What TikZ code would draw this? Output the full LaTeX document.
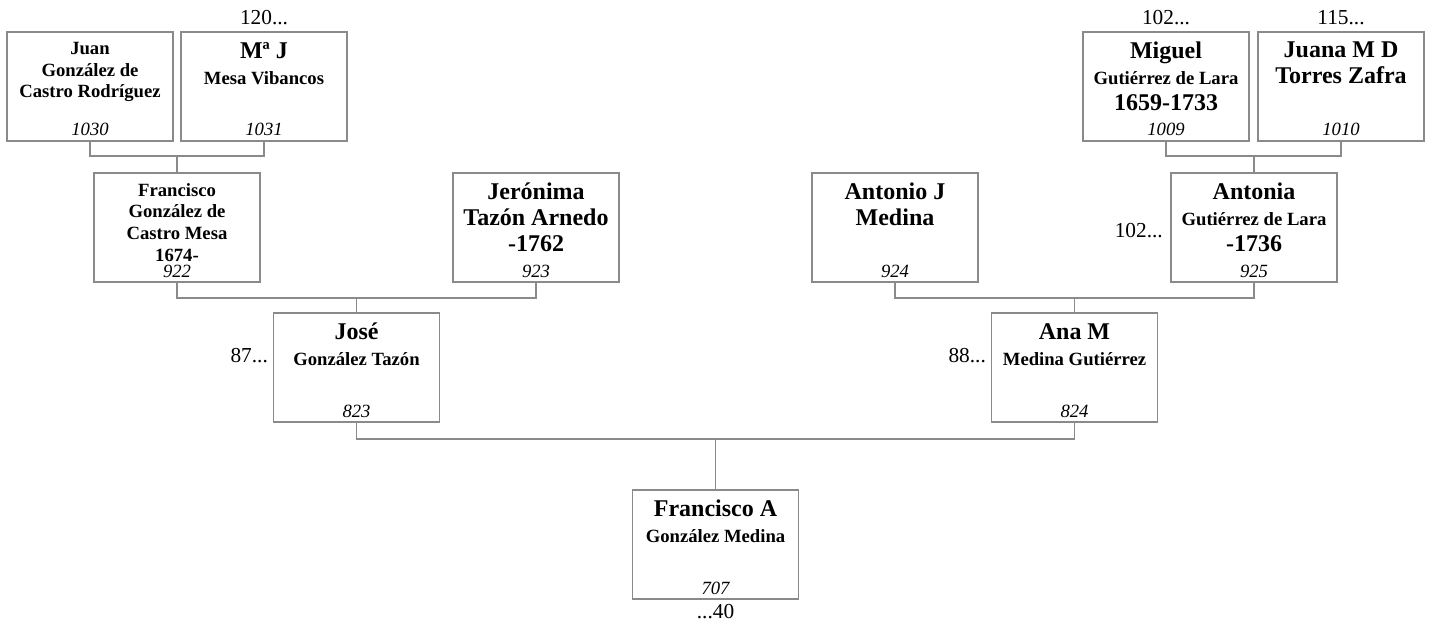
\documentclass[tikz,border=0pt]{standalone}
\usepackage{fontspec}
\setmainfont{Liberation Serif}
\usetikzlibrary{positioning}
\definecolor{frame}{HTML}{8A8A8A}
\newcommand\bigname{\fontsize{18}{19.5}\selectfont\bfseries}
\newcommand\smallname{\fontsize{14}{16.2}\selectfont\bfseries}

\begin{document}
\begin{tikzpicture}[
  x=0.75pt, y=-0.75pt,
  person/.style={rectangle, draw=frame, line width=0.9pt, minimum width=124.5pt,
    minimum height=81.75pt, inner sep=0pt, outer sep=0pt},
  who/.style={align=center, inner sep=0pt, font=\bigname},
  whosm/.style={align=center, inner sep=0pt, font=\smallname},
  num/.style={inner sep=0pt, font=\fontsize{14}{17}\selectfont\itshape},
  more/.style={inner sep=0pt, font=\fontsize{16}{19}\selectfont},
  link/.style={draw=frame, line width=0.9pt},
]
  \useasboundingbox (0,0) rectangle (1430,628);

  % abuelos de los abuelos
  \node[person] (juan) at (90,86.5) {};
  \node[whosm, below=7.5pt of juan.north] (juan-t) {Juan\\González de\\Castro Rodríguez};
  \node[num, above=3.5pt of juan.south] (juan-n) {1030};
  \node[person] (mj) at (264,86.5) {};
  \node[who, below=7.5pt of mj.north] (mj-t) {Mª J\\{\smallname Mesa Vibancos}};
  \node[num, above=3.5pt of mj.south] (mj-n) {1031};
  \node[more, above=5pt of mj.north] (mj-up) {120...};
  \node[person] (miguel) at (1166,86.5) {};
  \node[who, below=7.5pt of miguel.north] (miguel-t) {Miguel\\{\smallname Gutiérrez de Lara}\\1659-1733};
  \node[num, above=3.5pt of miguel.south] (miguel-n) {1009};
  \node[more, above=5pt of miguel.north] (miguel-up) {102...};
  \node[person] (juana) at (1341,86.5) {};
  \node[who, below=7.5pt of juana.north] (juana-t) {Juana M D\\Torres Zafra};
  \node[num, above=3.5pt of juana.south] (juana-n) {1010};
  \node[more, above=5pt of juana.north] (juana-up) {115...};

  % abuelos
  \node[person] (fran) at (177,227.5) {};
  \node[whosm, below=7.5pt of fran.north] (fran-t) {Francisco\\González de\\Castro Mesa\\1674-};
  \node[num, above=3pt of fran.south] (fran-n) {922};
  \node[person] (jero) at (536,227.5) {};
  \node[who, below=7.5pt of jero.north] (jero-t) {Jerónima\\Tazón Arnedo\\-1762};
  \node[num, above=3pt of jero.south] (jero-n) {923};
  \node[person] (antonio) at (895,227.5) {};
  \node[who, below=7.5pt of antonio.north] (antonio-t) {Antonio J\\Medina};
  \node[num, above=3pt of antonio.south] (antonio-n) {924};
  \node[person] (antonia) at (1254,227.5) {};
  \node[who, below=7.5pt of antonia.north] (antonia-t) {Antonia\\{\smallname Gutiérrez de Lara}\\-1736};
  \node[num, above=3pt of antonia.south] (antonia-n) {925};
  \node[more, left=6pt of antonia.west, yshift=-2pt] (antonia-up) {102...};

  % padres
  \node[person] (jose) at (356.5,367.5) {};
  \node[who, below=7.5pt of jose.north] (jose-t) {José\\{\smallname González Tazón}};
  \node[num, above=3pt of jose.south] (jose-n) {823};
  \node[more, left=4pt of jose.west, yshift=9pt] (jose-up) {87...};
  \node[person] (ana) at (1074.5,367.5) {};
  \node[who, below=7.5pt of ana.north] (ana-t) {Ana M\\{\smallname Medina Gutiérrez}};
  \node[num, above=3pt of ana.south] (ana-n) {824};
  \node[more, left=4pt of ana.west, yshift=9pt] (ana-up) {88...};

  % raiz
  \node[person] (franA) at (715.5,544.5) {};
  \node[who, below=7.5pt of franA.north] (franA-t) {Francisco A\\{\smallname González Medina}};
  \node[num, above=3pt of franA.south] (franA-n) {707};
  \node[more, below=4pt of franA.south] (franA-down) {...40};

  \draw[link] (juan.south) -- ++(0,15) coordinate (bar-a) -| (mj.south);
  \draw[link] (fran.north) -- (fran.north |- bar-a);
  \draw[link] (miguel.south) -- ++(0,15) coordinate (bar-b) -| (juana.south);
  \draw[link] (antonia.north) -- (antonia.north |- bar-b);
  \draw[link] (fran.south) -- ++(0,16) coordinate (bar-c) -| (jero.south);
  \draw[link] (jose.north) -- (jose.north |- bar-c);
  \draw[link] (antonio.south) -- ++(0,16) coordinate (bar-d) -| (antonia.south);
  \draw[link] (ana.north) -- (ana.north |- bar-d);
  \draw[link] (jose.south) -- ++(0,17) coordinate (bar-e) -| (ana.south);
  \draw[link] (franA.north) -- (franA.north |- bar-e);
\end{tikzpicture}
\end{document}
